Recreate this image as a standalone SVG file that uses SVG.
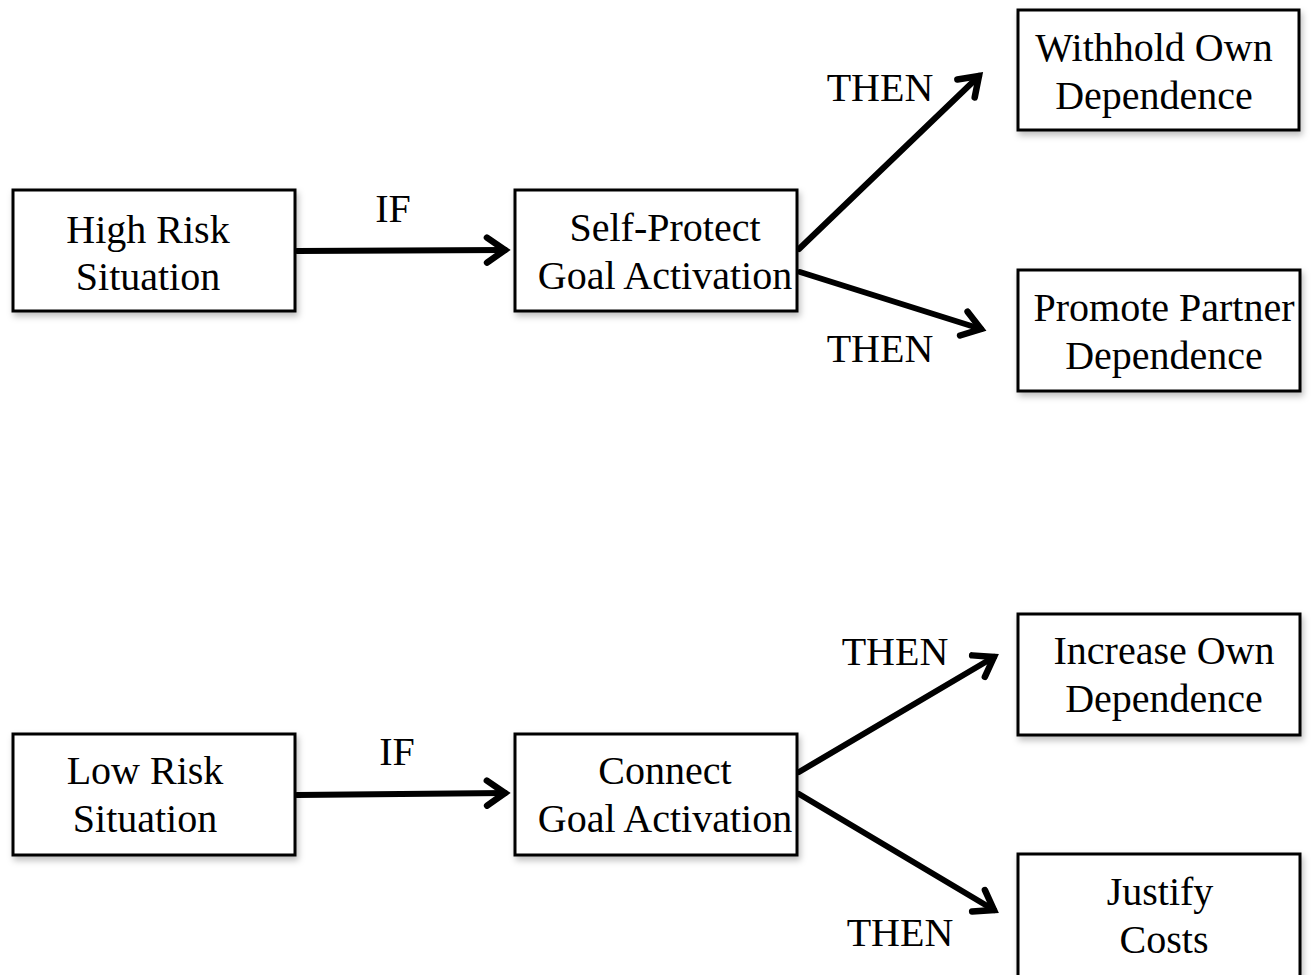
<svg xmlns="http://www.w3.org/2000/svg" width="1314" height="975" viewBox="0 0 1314 975">
<style>
.box{fill:#fff;stroke:#000;stroke-width:3;filter:url(#sh)}
.t{font-family:"Liberation Serif","Times New Roman",serif;font-size:40px;fill:#000;text-anchor:middle}
.c{stroke:#000;stroke-width:6;fill:none;stroke-linecap:round;marker-end:url(#ah)}
</style>
<defs>
<filter id="sh" x="-10%" y="-10%" width="125%" height="130%">
<feDropShadow dx="2" dy="4" stdDeviation="3" flood-color="#000" flood-opacity="0.25"/>
</filter>
<marker id="ah" markerUnits="userSpaceOnUse" viewBox="-24 -16 30 32" refX="0" refY="0" markerWidth="30" markerHeight="32" orient="auto">
<path d="M-18,-12.5 L0,0 L-18,12.5" fill="none" stroke="#000" stroke-width="6.5" stroke-linecap="round" stroke-linejoin="miter"/>
</marker>
</defs>
<rect width="1314" height="975" fill="#fff"/>
<g id="connectors">
<line class="c" x1="297" y1="251" x2="505" y2="250"/>
<line class="c" x1="799" y1="249" x2="979" y2="76"/>
<line class="c" x1="800" y1="272" x2="981" y2="329"/>
<line class="c" x1="297" y1="795" x2="505" y2="793"/>
<line class="c" x1="799" y1="772" x2="994" y2="657"/>
<line class="c" x1="799" y1="794" x2="994" y2="910"/>
<text class="t" x="393" y="222">IF</text>
<text class="t" x="880" y="101">THEN</text>
<text class="t" x="880" y="362">THEN</text>
<text class="t" x="397" y="765">IF</text>
<text class="t" x="895" y="665">THEN</text>
<text class="t" x="900" y="946">THEN</text>
</g>
<g id="high-risk"><rect class="box" x="13" y="190" width="282" height="121"/><text class="t" x="148" y="243">High Risk</text><text class="t" x="148" y="290">Situation</text></g>
<g id="self-protect"><rect class="box" x="515" y="190" width="282" height="121"/><text class="t" x="665" y="241">Self-Protect</text><text class="t" x="665" y="289">Goal Activation</text></g>
<g id="withhold"><rect class="box" x="1018" y="10" width="281" height="120"/><text class="t" x="1154" y="61">Withhold Own</text><text class="t" x="1154" y="109">Dependence</text></g>
<g id="promote"><rect class="box" x="1018" y="270" width="282" height="121"/><text class="t" x="1164" y="321">Promote Partner</text><text class="t" x="1164" y="369">Dependence</text></g>
<g id="low-risk"><rect class="box" x="13" y="734" width="282" height="121"/><text class="t" x="145" y="784">Low Risk</text><text class="t" x="145" y="832">Situation</text></g>
<g id="connect"><rect class="box" x="515" y="734" width="282" height="121"/><text class="t" x="665" y="784">Connect</text><text class="t" x="665" y="832">Goal Activation</text></g>
<g id="increase"><rect class="box" x="1018" y="614" width="282" height="121"/><text class="t" x="1164" y="664">Increase Own</text><text class="t" x="1164" y="712">Dependence</text></g>
<g id="justify"><rect class="box" x="1018" y="854" width="282" height="130"/><text class="t" x="1160" y="905">Justify</text><text class="t" x="1164" y="953">Costs</text></g>
</svg>
